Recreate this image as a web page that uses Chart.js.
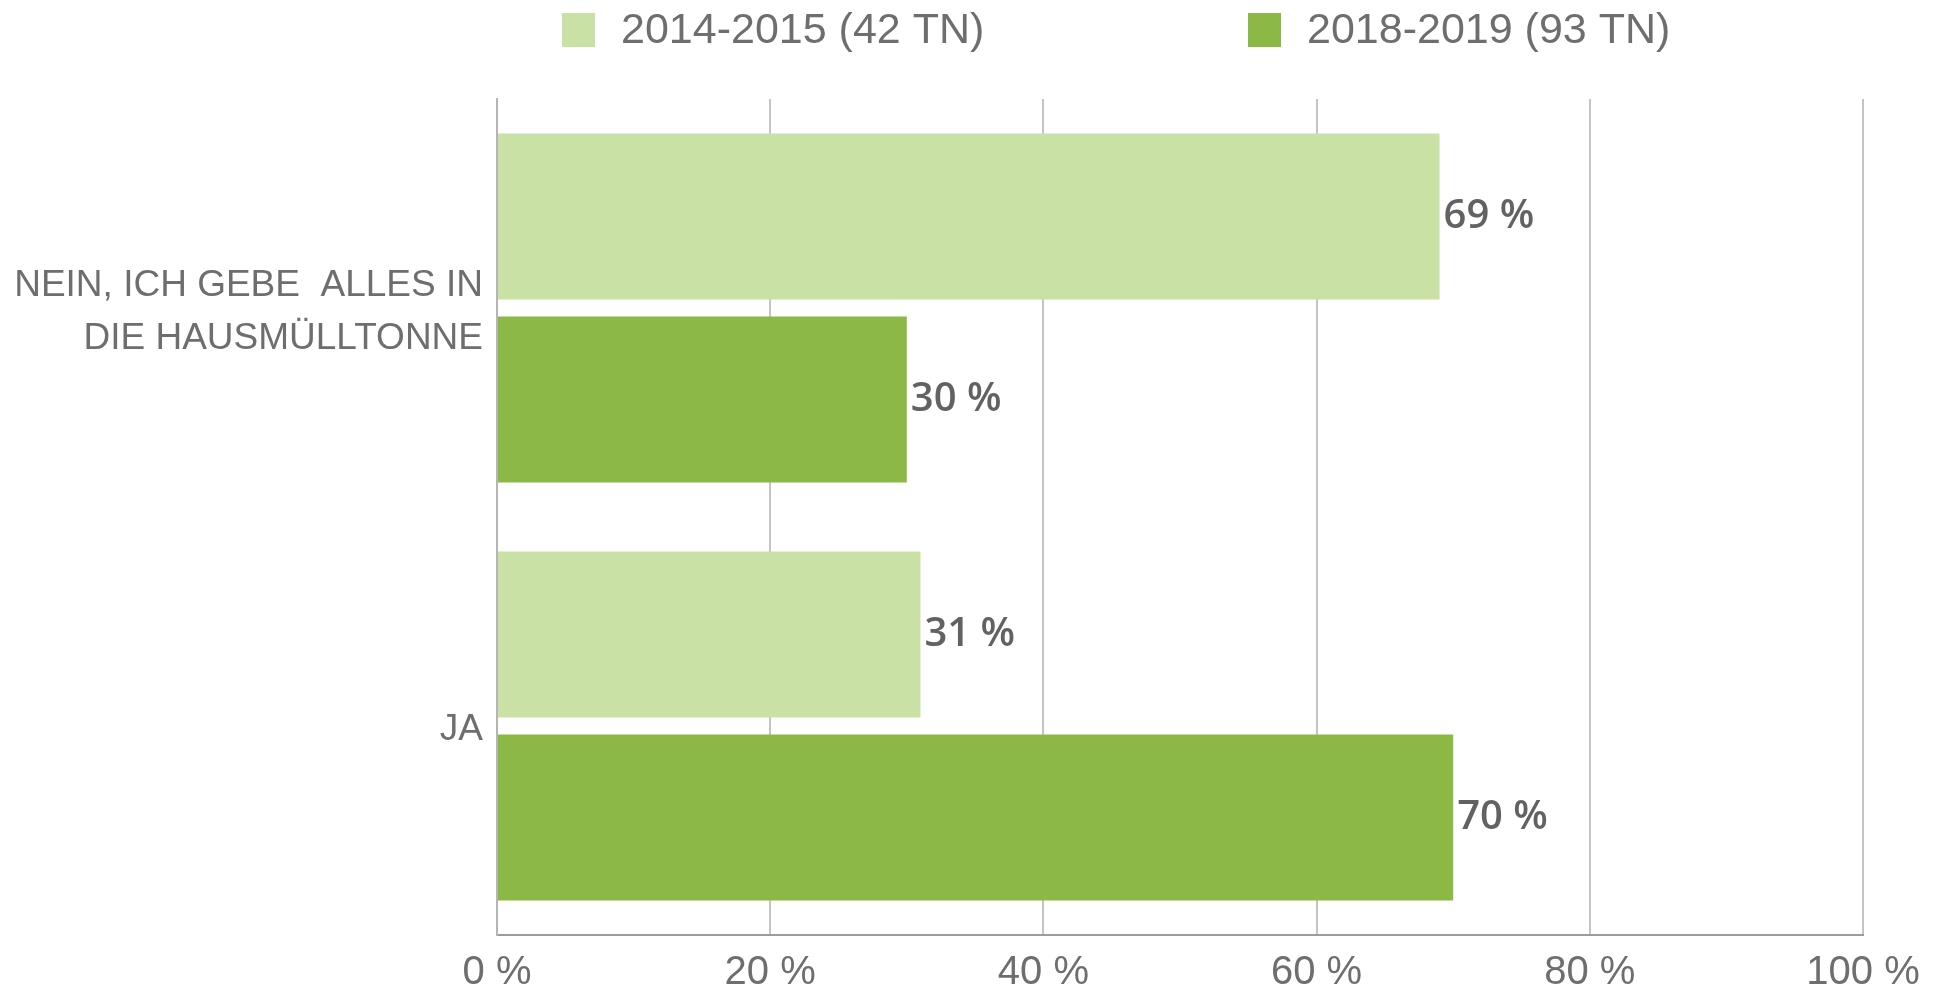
<!DOCTYPE html>
<html>
<head>
<meta charset="utf-8">
<script src="https://cdn.jsdelivr.net/npm/chart.js@4"></script>
<style>
  html, body { margin: 0; padding: 0; background: #fff; }
</style>
</head>
<body>
<canvas id="chart" width="1947" height="989"></canvas>
<script>
// categories (top to bottom)
const categories = [
    ['NEIN, ICH GEBE  ALLES IN', 'DIE HAUSMÜLLTONNE'],
    'JA'
];
const seriesNames = ['2014-2015 (42 TN)', '2018-2019 (93 TN)'];
const values2015 = [69, 31];
const values2019 = [30, 70];
const xTicks = [0, 20, 40, 60, 80, 100];

const lightGreen = '#c9e1a5';
const darkGreen = '#8cb846';
const textGrey = '#6e6e6e';

// value labels right of each bar
const valueLabels = {
    id: 'valueLabels',
    afterDatasetsDraw(chart) {
        const ctx = chart.ctx;
        ctx.save();
        ctx.font = '600 40px "Open Sans"';
        ctx.fillStyle = '#626262';
        ctx.textAlign = 'left';
        ctx.textBaseline = 'middle';
        chart.data.datasets.forEach((ds, i) => {
            chart.getDatasetMeta(i).data.forEach((bar, j) => {
                ctx.fillText(ds.data[j] + ' %', bar.x + 4, bar.y);
            });
        });
        ctx.restore();
    }
};

// legend drawn on top, spaced like the original
const topLegend = {
    id: 'topLegend',
    afterDraw(chart) {
        const ctx = chart.ctx;
        const starts = [562, 1248];
        ctx.save();
        ctx.font = '43px "Liberation Sans"';
        ctx.textAlign = 'left';
        ctx.textBaseline = 'middle';
        chart.data.datasets.forEach((ds, i) => {
            const x = starts[i];
            ctx.fillStyle = ds.backgroundColor;
            ctx.fillRect(x, 13, 33, 34);
            ctx.fillStyle = textGrey;
            ctx.fillText(ds.label, x + 59, 31);
        });
        ctx.restore();
    }
};

new Chart(document.getElementById('chart'), {
    type: 'bar',
    data: {
        labels: categories,
        datasets: [
            { label: seriesNames[0], data: values2015, backgroundColor: lightGreen },
            { label: seriesNames[1], data: values2019, backgroundColor: darkGreen }
        ]
    },
    options: {
        indexAxis: 'y',
        responsive: false,
        animation: false,
        devicePixelRatio: 1,
        categoryPercentage: 0.876,
        barPercentage: 0.907,
        layout: { padding: { top: 99, right: 84, left: 0, bottom: 0 } },
        plugins: {
            legend: { display: false },
            tooltip: { enabled: false }
        },
        scales: {
            x: {
                min: 0,
                max: 100,
                afterBuildTicks: (s) => { s.ticks = xTicks.map(v => ({ value: v })); },
                afterFit: (s) => { s.height = 54; },
                grid: { color: '#c4c4c4', lineWidth: 2, drawTicks: false },
                border: { color: '#9c9c9c', width: 2 },
                ticks: {
                    padding: 14,
                    color: textGrey,
                    font: { family: '"Liberation Sans"', size: 40 },
                    callback: (v) => v + ' %'
                }
            },
            y: {
                afterFit: (s) => {
                    s.width = 497;
                    s.paddingTop = 0;
                    s.paddingBottom = 0;
                },
                grid: { display: false, drawTicks: false },
                border: { color: '#b5b5b5', width: 2 },
                ticks: {
                    padding: 14,
                    labelOffset: 4,
                    color: textGrey,
                    font: { family: '"Liberation Sans"', size: 37, lineHeight: 1.43 }
                }
            }
        }
    },
    plugins: [valueLabels, topLegend]
});
</script>
</body>
</html>
